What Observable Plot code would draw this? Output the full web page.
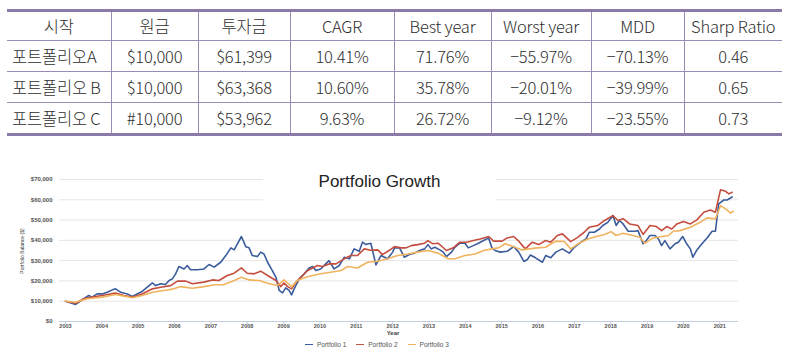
<!DOCTYPE html>
<html><head><meta charset="utf-8">
<script src="https://cdn.jsdelivr.net/npm/d3@7"></script>
<script src="https://cdn.jsdelivr.net/npm/@observablehq/plot@0.6"></script>
<style>
html,body{margin:0;padding:0;background:#fff;}
body{width:790px;height:362px;overflow:hidden;position:relative;}
#tbl{position:absolute;left:7px;top:9px;width:775px;border-collapse:collapse;table-layout:fixed;
  font-family:"Noto Sans CJK KR","Noto Sans",sans-serif;font-size:16.5px;color:#2e2e2e;letter-spacing:-0.2px;font-weight:300;}
#tbl th,#tbl td{border-left:1px solid #9a8bb8;border-right:1px solid #9a8bb8;border-bottom:1px solid #9a8bb8;
  padding:0;text-align:center;font-weight:300;white-space:nowrap;line-height:1;}
#tbl th{height:28px;}
#tbl td{height:30px;}
#tbl tr > :first-child{border-left:none;}
#tbl tr > :last-child{border-right:none;}
#tbl thead tr{border-top:3px solid #8b7aa8;}
#tbl tbody tr:last-child td{border-bottom:3px solid #8b7aa8;}
#tbl td.lab{text-align:left;padding-left:5px;}
#chart{position:absolute;left:0;top:160px;}
#title{position:absolute;left:263px;top:168px;width:233px;height:38px;background:#fff;
  font-family:"Liberation Sans",Arial,sans-serif;font-size:17px;color:#222;text-align:center;line-height:22px;padding-top:3px;box-sizing:border-box;}
#ylab{position:absolute;left:22px;top:251px;transform:translate(-50%,-50%) rotate(-90deg);white-space:nowrap;
  font-family:"Liberation Sans",Arial,sans-serif;font-size:5px;color:#333;}
#xlab{position:absolute;left:393px;top:333px;transform:translate(-50%,-50%);
  font-family:"Liberation Sans",Arial,sans-serif;font-size:6px;font-weight:bold;color:#444;}
#legend{position:absolute;left:305px;top:341px;display:flex;align-items:center;
  font-family:"Liberation Sans",Arial,sans-serif;font-size:6.5px;color:#555;}
#legend .sw{display:inline-block;width:8px;height:1.6px;margin-right:4px;}
#legend .it{display:flex;align-items:center;margin-right:10px;}
</style>
</head><body>
<table id="tbl">
<colgroup><col style="width:104px"><col style="width:87px"><col style="width:92px"><col style="width:104px"><col style="width:97px"><col style="width:100px"><col style="width:93px"><col style="width:98px"></colgroup>
<thead><tr id="hdr"></tr></thead>
<tbody id="tb"></tbody>
</table>
<div id="chart"></div>
<div id="title">Portfolio Growth</div>
<div id="ylab">Portfolio Balance ($)</div>
<div id="xlab">Year</div>
<div id="legend"></div>
<script>
// ---- table data ----
const headers = ["시작","원금","투자금","CAGR","Best year","Worst year","MDD","Sharp Ratio"];
const rowNames = ["포트폴리오A","포트폴리오 B","포트폴리오 C"];
const principal = ["$10,000","$10,000","#10,000"];
const finalBalance = ["$61,399","$63,368","$53,962"];
const cagr = ["10.41%","10.60%","9.63%"];
const bestYear = ["71.76%","35.78%","26.72%"];
const worstYear = ["−55.97%","−20.01%","−9.12%"];
const mdd = ["−70.13%","−39.99%","−23.55%"];
const sharpe = ["0.46","0.65","0.73"];

// ---- chart data: [year, balance $] ----
const seriesNames = ["Portfolio 1","Portfolio 2","Portfolio 3"];
const seriesColors = ["#3b5c9c","#c44e3e","#f0b35e"];
const yTicks = [0,10000,20000,30000,40000,50000,60000,70000];
const xTicks = [2003,2004,2005,2006,2007,2008,2009,2010,2011,2012,2013,2014,2015,2016,2017,2018,2019,2020,2021];

const p1 = [[2003.00,10000],[2003.28,8400],[2003.46,10700],[2003.64,12800],[2003.73,12000],[2003.87,13600],[2004.01,13600],[2004.15,14400],[2004.29,15600],[2004.38,16100],[2004.52,14400],[2004.70,13600],[2004.84,12300],[2004.97,13600],[2005.11,14800],[2005.25,16900],[2005.39,19000],[2005.48,17700],[2005.62,18600],[2005.75,18200],[2005.85,20200],[2005.94,21000],[2006.03,23500],[2006.12,27100],[2006.26,25900],[2006.35,27600],[2006.44,25500],[2006.63,25500],[2006.81,25900],[2006.95,28100],[2007.09,26800],[2007.27,29200],[2007.41,32500],[2007.55,36300],[2007.64,35300],[2007.73,38300],[2007.84,41900],[2007.96,36900],[2008.05,36300],[2008.14,32500],[2008.28,32000],[2008.37,34200],[2008.46,33300],[2008.56,29200],[2008.69,25100],[2008.79,21800],[2008.88,15300],[2008.97,14100],[2009.06,16600],[2009.15,15300],[2009.22,13100],[2009.29,16100],[2009.43,21000],[2009.57,23500],[2009.70,26400],[2009.80,27100],[2009.89,25100],[2010.02,25900],[2010.16,28400],[2010.25,30000],[2010.39,25900],[2010.53,27600],[2010.67,31700],[2010.81,30900],[2010.94,35800],[2011.08,34600],[2011.17,39100],[2011.26,38000],[2011.40,38600],[2011.54,27900],[2011.68,32500],[2011.86,30900],[2012.00,34200],[2012.05,36300],[2012.19,36300],[2012.32,31700],[2012.46,33000],[2012.60,33700],[2012.74,35000],[2012.88,35800],[2012.97,37900],[2013.06,35800],[2013.16,36600],[2013.30,35300],[2013.39,34200],[2013.48,32000],[2013.62,34200],[2013.71,36600],[2013.85,38600],[2013.99,38600],[2014.08,36300],[2014.22,37400],[2014.36,38600],[2014.50,39900],[2014.64,41200],[2014.73,36300],[2014.82,35000],[2014.96,34200],[2015.15,34600],[2015.33,36900],[2015.47,34200],[2015.61,29600],[2015.70,30400],[2015.79,32800],[2015.93,31400],[2016.12,29200],[2016.21,32500],[2016.35,31400],[2016.49,34200],[2016.67,35800],[2016.86,33700],[2017.00,36600],[2017.18,39100],[2017.32,40700],[2017.41,44000],[2017.55,44000],[2017.69,45600],[2017.78,47300],[2017.92,48900],[2018.06,52200],[2018.15,47300],[2018.24,49800],[2018.34,48100],[2018.48,44500],[2018.66,44500],[2018.75,44800],[2018.89,38300],[2018.98,39900],[2019.08,42400],[2019.22,42400],[2019.31,40700],[2019.40,37400],[2019.49,39900],[2019.63,35800],[2019.77,38300],[2019.86,39100],[2019.98,41900],[2020.09,38300],[2020.19,35800],[2020.26,31700],[2020.37,35300],[2020.51,38300],[2020.65,41200],[2020.79,44500],[2020.88,44500],[2020.97,58000],[2021.11,59900],[2021.20,59900],[2021.34,61400]];

const p2 = [[2003.00,10000],[2003.28,9000],[2003.51,11200],[2003.73,12000],[2004.01,12800],[2004.24,13600],[2004.38,14000],[2004.61,12800],[2004.84,12000],[2005.11,13600],[2005.39,16100],[2005.62,16900],[2005.89,17700],[2006.08,19900],[2006.31,19900],[2006.49,18600],[2006.81,19400],[2007.04,20500],[2007.22,20200],[2007.45,22700],[2007.64,23800],[2007.84,26400],[2008.00,23800],[2008.19,23500],[2008.37,24800],[2008.56,22700],[2008.79,20200],[2008.92,17200],[2009.01,19000],[2009.11,17200],[2009.22,16100],[2009.34,19400],[2009.47,21800],[2009.66,25100],[2009.80,26400],[2009.93,27600],[2010.07,27100],[2010.25,28400],[2010.44,28400],[2010.67,30900],[2010.85,32500],[2011.03,32500],[2011.22,35800],[2011.40,35100],[2011.59,35300],[2011.72,33000],[2011.91,35100],[2012.05,36900],[2012.23,36300],[2012.37,36300],[2012.51,37400],[2012.69,37900],[2012.88,38600],[2012.97,39900],[2013.11,38300],[2013.25,38600],[2013.48,35000],[2013.67,36300],[2013.85,39100],[2014.04,39100],[2014.22,39900],[2014.41,40700],[2014.64,41900],[2014.78,39600],[2015.01,39600],[2015.15,41200],[2015.33,41900],[2015.47,39600],[2015.65,35800],[2015.84,39100],[2016.02,37900],[2016.21,39900],[2016.35,39100],[2016.53,42400],[2016.67,43200],[2016.90,39400],[2017.09,41500],[2017.27,44000],[2017.41,46500],[2017.64,47300],[2017.83,49800],[2018.06,52200],[2018.20,49800],[2018.34,50700],[2018.52,48100],[2018.75,47300],[2018.89,42900],[2019.08,47300],[2019.26,46800],[2019.40,44800],[2019.54,46800],[2019.68,45600],[2019.82,48100],[2020.00,49300],[2020.19,48100],[2020.37,50100],[2020.56,53900],[2020.74,55000],[2020.88,53900],[2021.02,64900],[2021.16,64200],[2021.25,62900],[2021.34,63700]];

const p3 = [[2003.00,10000],[2003.28,9500],[2003.60,11200],[2004.01,12000],[2004.38,13300],[2004.61,12500],[2004.84,11700],[2005.11,12800],[2005.39,14400],[2005.71,15300],[2005.98,16100],[2006.17,17200],[2006.49,16400],[2006.81,17200],[2007.09,18100],[2007.36,18200],[2007.64,20200],[2007.84,21800],[2008.05,20500],[2008.33,20200],[2008.56,18900],[2008.83,17700],[2009.01,20500],[2009.22,17200],[2009.38,20200],[2009.61,21800],[2009.80,22700],[2010.02,23500],[2010.30,24300],[2010.58,25100],[2010.76,27100],[2011.03,26400],[2011.31,29200],[2011.59,29700],[2011.86,30900],[2012.14,32500],[2012.42,33300],[2012.69,34200],[2012.97,35000],[2013.25,33700],[2013.53,30900],[2013.71,30900],[2013.99,32500],[2014.27,33300],[2014.50,35000],[2014.73,35800],[2014.91,36300],[2015.10,38300],[2015.33,36900],[2015.56,35300],[2015.75,35800],[2015.98,36300],[2016.21,36600],[2016.49,39600],[2016.72,39400],[2016.90,35800],[2017.13,38600],[2017.37,40700],[2017.60,41900],[2017.83,42900],[2018.01,44300],[2018.15,42400],[2018.34,43500],[2018.61,42400],[2018.80,41500],[2018.94,38600],[2019.17,41200],[2019.40,41900],[2019.59,42400],[2019.72,44500],[2019.91,44800],[2020.19,46500],[2020.46,48900],[2020.65,51100],[2020.88,50600],[2021.02,57100],[2021.16,55500],[2021.30,53400],[2021.37,54400]];

// ---- build table ----
const hdr = document.getElementById("hdr");
headers.forEach(h => { const th = document.createElement("th"); th.textContent = h; hdr.appendChild(th); });
const tb = document.getElementById("tb");
rowNames.forEach((name, i) => {
  const tr = document.createElement("tr");
  [name, principal[i], finalBalance[i], cagr[i], bestYear[i], worstYear[i], mdd[i], sharpe[i]].forEach((v, j) => {
    const td = document.createElement("td"); td.textContent = v; if (j === 0) td.className = "lab"; tr.appendChild(td);
  });
  tb.appendChild(tr);
});

// ---- chart ----
const rows = [];
[p1, p2, p3].forEach((s, i) => s.forEach(([year, value]) => rows.push({series: seriesNames[i], year, value})));

const chart = Plot.plot({
  width: 790, height: 202,
  marginLeft: 59, marginRight: 52, marginTop: 19, marginBottom: 41,
  style: {fontFamily: "'Liberation Sans', Arial, sans-serif", background: "transparent", overflow: "visible"},
  x: {domain: [2002.835, 2021.515]},
  y: {domain: [0, 70000]},
  color: {domain: seriesNames, range: seriesColors},
  marks: [
    Plot.gridY(yTicks.filter(d => d > 0), {stroke: "#e6e6e6", strokeOpacity: 1}),
    Plot.axisY(yTicks, {tickFormat: d3.format("$,"), tickSize: 0, tickPadding: 7, label: null,
      fontSize: 6, fontWeight: "bold", fill: "#555"}),
    Plot.ruleY([0], {stroke: "#c2cde2", strokeWidth: 1.2}),
    Plot.axisX(xTicks, {tickFormat: "d", tickSize: 3, tickPadding: 0, label: null, stroke: "#c2cde2",
      fontSize: 5.5, fontWeight: "bold", fill: "#555"}),
    Plot.line(rows, {x: "year", y: "value", z: "series", stroke: "series", strokeWidth: 1.6, curve: "linear"})
  ]
});
document.getElementById("chart").appendChild(chart);

// ---- legend ----
const lg = document.getElementById("legend");
seriesNames.forEach((n, i) => {
  const it = document.createElement("span"); it.className = "it";
  const sw = document.createElement("span"); sw.className = "sw"; sw.style.background = seriesColors[i];
  const tx = document.createElement("span"); tx.textContent = n;
  it.appendChild(sw); it.appendChild(tx); lg.appendChild(it);
});
</script>
</body></html>
